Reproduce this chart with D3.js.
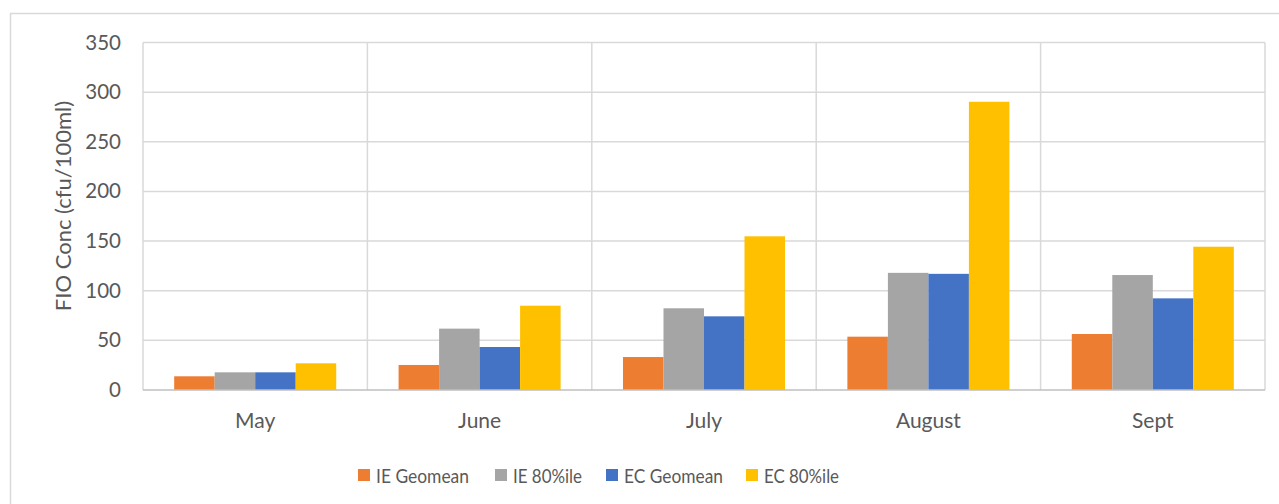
<!DOCTYPE html>
<html>
<head>
<meta charset="utf-8">
<script src="https://cdn.jsdelivr.net/npm/d3@7"></script>
<style>
  body { margin: 0; background: #fff; }
  text { font-family: Lato, "Open Sans", sans-serif; fill: #595959; }
</style>
</head>
<body>
<div id="chart"></div>
<script>
// months along the x axis
var months = ["May", "June", "July", "August", "Sept"];
var seriesNames = ["IE Geomean", "IE 80%ile", "EC Geomean", "EC 80%ile"];
var seriesColors = ["#ED7D31", "#A5A5A5", "#4472C4", "#FFC000"];

// values, one array per series
var ieGeomean = [13.8, 25.2, 33.2, 53.7, 56.4];
var ie80 = [17.8, 61.8, 82.3, 118, 115.8];
var ecGeomean = [17.8, 43.3, 74.2, 117, 92.3];
var ec80 = [26.9, 84.9, 154.8, 290.3, 144.3];

var yTicks = [0, 50, 100, 150, 200, 250, 300, 350];

var w = 1279;
var h = 504;
// plot area edges (window.top is taken, so pLeft/pTop...)
var pLeft = 143, pRight = 1265, pTop = 42.5, pBottom = 390;

var allSeries = [ieGeomean, ie80, ecGeomean, ec80];

var svg = d3.select("#chart")
            .append("svg")
            .attr("width", w)
            .attr("height", h);

// chart border
svg.append("rect")
    .attr("x", 10.5)
    .attr("y", 13.5)
    .attr("width", 1400)
    .attr("height", 600)
    .attr("fill", "none")
    .attr("stroke", "#D9D9D9")
    .attr("stroke-width", 1.5);

var xscale = d3.scaleBand()
                .domain(months)
                .range([pLeft, pRight]);

var xinner = d3.scaleBand()
                .domain(seriesNames)
                .range([0, xscale.bandwidth()])
                .paddingOuter(0.77)
                .paddingInner(0);

var yscale = d3.scaleLinear()
                .domain([0, 350])
                .range([pBottom, pTop]);

// horizontal grid
svg.append("g")
    .selectAll("line")
    .data(yTicks.slice(1))
    .enter()
    .append("line")
    .attr("x1", pLeft)
    .attr("x2", pRight)
    .attr("y1", function(d) { return yscale(d); })
    .attr("y2", function(d) { return yscale(d); })
    .attr("stroke", "#D9D9D9")
    .attr("stroke-width", 1.5);

// vertical grid at category edges
var edges = months.map(function(m) { return xscale(m); }).concat([pRight]);
svg.append("g")
    .selectAll("line")
    .data(edges)
    .enter()
    .append("line")
    .attr("x1", function(d) { return d; })
    .attr("x2", function(d) { return d; })
    .attr("y1", pTop)
    .attr("y2", pBottom)
    .attr("stroke", "#D9D9D9")
    .attr("stroke-width", 1.5);

// bars
allSeries.forEach(function(vals, i) {
    svg.append("g")
        .attr("fill", seriesColors[i])
        .selectAll("rect")
        .data(vals)
        .enter()
        .append("rect")
        .attr("x", function(d, j) { return xscale(months[j]) + xinner(seriesNames[i]); })
        .attr("width", xinner.bandwidth())
        .attr("y", function(d) { return yscale(d); })
        .attr("height", function(d) { return pBottom - yscale(d); });
});

// x axis line
svg.append("line")
    .attr("x1", pLeft)
    .attr("x2", pRight)
    .attr("y1", pBottom)
    .attr("y2", pBottom)
    .attr("stroke", "#BFBFBF")
    .attr("stroke-width", 1.5);

var xaxis = d3.axisBottom(xscale).tickSize(0).tickPadding(23);
var xg = svg.append("g")
    .attr("transform", "translate(0," + pBottom + ")")
    .call(xaxis);
xg.select(".domain").remove();
xg.selectAll("text")
    .style("font-family", "Lato, 'Open Sans', sans-serif")
    .attr("font-size", 21)
    .attr("fill", "#595959");

var yaxis = d3.axisLeft(yscale).tickValues(yTicks).tickSize(0).tickPadding(22);
var yg = svg.append("g")
    .attr("transform", "translate(" + pLeft + ",0)")
    .call(yaxis);
yg.select(".domain").remove();
yg.selectAll("text")
    .style("font-family", "Lato, 'Open Sans', sans-serif")
    .attr("font-size", 20.5)
    .attr("fill", "#595959");

// y title
svg.append("text")
    .attr("transform", "translate(71,206) rotate(-90)")
    .attr("text-anchor", "middle")
    .attr("font-size", 22)
    .text("FIO Conc (cfu/100ml)");

// legend - squeeze text a little so it looks like the narrower original font
var legendX = [358, 495, 606, 746];
var legendTextW = [93, 69, 99, 75];
var legend = svg.append("g")
    .selectAll("g")
    .data(seriesNames)
    .enter()
    .append("g")
    .attr("transform", function(d, i) { return "translate(" + legendX[i] + ",469)"; });

legend.append("rect")
    .attr("width", 12)
    .attr("height", 12)
    .attr("fill", function(d, i) { return seriesColors[i]; });

legend.append("text")
    .attr("x", 18)
    .attr("y", 6.5)
    .attr("dy", "0.35em")
    .attr("font-size", 20)
    .attr("textLength", function(d, i) { return legendTextW[i]; })
    .attr("lengthAdjust", "spacingAndGlyphs")
    .text(function(d) { return d; });
</script>
</body>
</html>
